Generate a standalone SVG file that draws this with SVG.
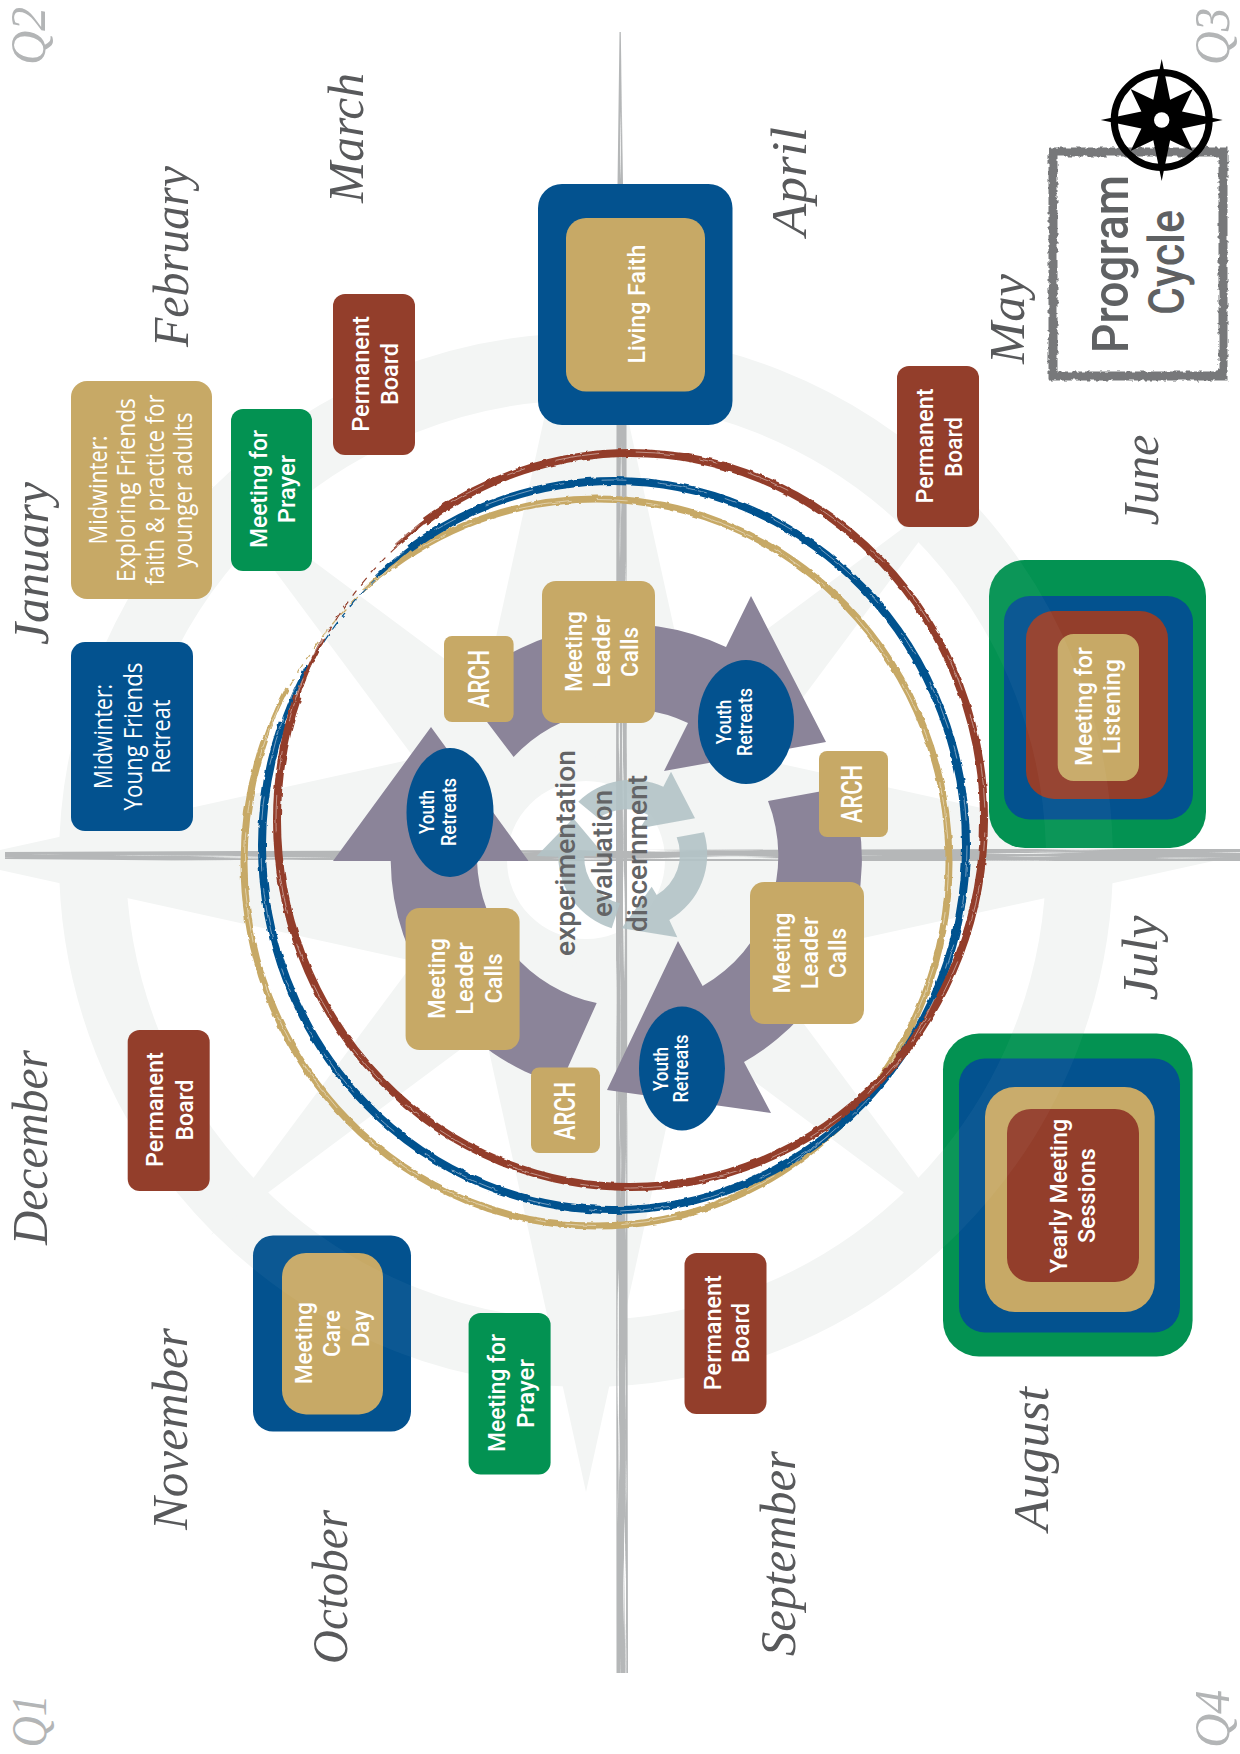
<svg xmlns="http://www.w3.org/2000/svg" width="1240" height="1754" viewBox="0 0 1240 1754">
<style>
text{text-anchor:middle}
.m{font:italic 51px "Liberation Serif",serif;fill:#58595b}
.q{font:italic 50px "Liberation Serif",serif;fill:#b3b5b6}
.w{font:500 24px Roboto,"Liberation Sans",sans-serif;fill:#fff}
.w20{font:500 20px Roboto,"Liberation Sans",sans-serif;fill:#fff}
.w28{font:500 29px Roboto,"Liberation Sans",sans-serif;fill:#fff}
.o{font:500 25px "Open Sans","Liberation Sans",sans-serif;fill:#fff}
.c{font:500 28px Roboto,"Liberation Sans",sans-serif;fill:#636466}
.p{font:500 50px Roboto,"Liberation Sans",sans-serif;fill:#5f6163}
.bl{fill:#03528f}.go{fill:#c7a966}.gr{fill:#039252}.br{fill:#933e2b}
.pu{fill:#8b8499}.cy{fill:#b3c3c6;opacity:.9}
.ring{fill:none}
.rb{stroke:#933e2b}.rn{stroke:#03528f}.rg{stroke:#c7a966}
</style>
<defs>
<filter id="rough" x="-5%" y="-5%" width="110%" height="110%">
<feTurbulence type="fractalNoise" baseFrequency="0.22" numOctaves="2" seed="4" result="n"/>
<feDisplacementMap in="SourceGraphic" in2="n" scale="5" xChannelSelector="R" yChannelSelector="G"/>
</filter>
<filter id="brush" x="-5%" y="-5%" width="110%" height="110%">
<feTurbulence type="fractalNoise" baseFrequency="0.12" numOctaves="2" seed="9" result="n"/>
<feDisplacementMap in="SourceGraphic" in2="n" scale="3" xChannelSelector="R" yChannelSelector="G"/>
</filter>
<filter id="sh" filterUnits="userSpaceOnUse" x="0" y="840" width="1240" height="30" color-interpolation-filters="sRGB">
<feTurbulence type="fractalNoise" baseFrequency="0.006 0.4" numOctaves="2" seed="3" result="n"/>
<feColorMatrix in="n" type="matrix" values="0 0 0 0 0 0 0 0 0 0 0 0 0 0 0 7 0 0 0 -1.8" result="a"/>
<feComposite in="SourceGraphic" in2="a" operator="in"/>
</filter>
<filter id="sv" filterUnits="userSpaceOnUse" x="605" y="20" width="35" height="1670" color-interpolation-filters="sRGB">
<feTurbulence type="fractalNoise" baseFrequency="0.4 0.006" numOctaves="2" seed="7" result="n"/>
<feColorMatrix in="n" type="matrix" values="0 0 0 0 0 0 0 0 0 0 0 0 0 0 0 7 0 0 0 -1.8" result="a"/>
<feComposite in="SourceGraphic" in2="a" operator="in"/>
</filter>
<clipPath id="ov">
<rect x="253" y="1236" width="158" height="196" rx="20"/>
<rect x="989" y="560" width="217" height="288" rx="32"/>
<rect x="943" y="1034" width="250" height="323" rx="32"/>
</clipPath>
</defs>
<rect width="1240" height="1754" fill="#fff"/>

<g id="compass-rose" fill="#f3f5f4">
<circle cx="586" cy="860" r="493.5" fill="none" stroke="#f3f5f4" stroke-width="67"/>
<polygon points="586,228 725,860 586,1492 447,860"/>
<polygon points="-46,860 586,721 1218,860 586,999"/>
<polygon points="961,485 641,915 211,1235 531,805"/>
<polygon points="211,485 641,805 961,1235 531,915"/>
<circle cx="586" cy="860" r="79" fill="#fff"/>
</g>

<g id="axes" fill="#b5b7b8">
<polygon filter="url(#sv)" points="619.5,32 620.8,32 623,185 626.5,420 627,860 628,1673 616.5,1673 616,860 616.5,420 617.5,185"/>
<polygon filter="url(#sh)" points="5,852 240,851 620,850 1000,849 1240,849 1240,861 1000,861 620,861 240,861 5,859"/>
</g>

<g id="rings" class="ring" filter="url(#brush)">
<g id="ring-gold" class="rg">
<ellipse cx="596.5" cy="862.5" rx="352.5" ry="363.5" fill="none" stroke-width="7" pathLength="360" stroke-dasharray="325 35" stroke-dashoffset="-235"/>
<ellipse cx="596.5" cy="862.5" rx="352.5" ry="363.5" fill="none" stroke-width="3.5" pathLength="360" stroke-dasharray="340 20" stroke-dashoffset="-229"/>
<ellipse cx="596.5" cy="862.5" rx="351" ry="362" fill="none" stroke-width="1.2" pathLength="360" stroke-dasharray="1.6 1 .8 1.2 1.4 1" stroke-dashoffset="-212"/>
</g>
<g id="ring-blue" class="rn">
<ellipse cx="614" cy="845.5" rx="352" ry="364.5" fill="none" stroke-width="8" pathLength="360" stroke-dasharray="325 35" stroke-dashoffset="-235"/>
<ellipse cx="614" cy="845.5" rx="352" ry="364.5" fill="none" stroke-width="3.5" pathLength="360" stroke-dasharray="342 18" stroke-dashoffset="-228"/>
<ellipse cx="614" cy="845.5" rx="350.5" ry="363" fill="none" stroke-width="1.2" pathLength="360" stroke-dasharray="1.4 1.1 .8 1.2 1.6 1" stroke-dashoffset="-210"/>
</g>
<g id="ring-brown" class="rb">
<ellipse cx="630.5" cy="820" rx="353.5" ry="367" fill="none" stroke-width="8" pathLength="360" stroke-dasharray="325 35" stroke-dashoffset="-235"/>
<ellipse cx="630.5" cy="820" rx="353.5" ry="367" fill="none" stroke-width="3.5" pathLength="360" stroke-dasharray="341 19" stroke-dashoffset="-229"/>
<ellipse cx="630.5" cy="820" rx="352" ry="365.5" fill="none" stroke-width="1.2" pathLength="360" stroke-dasharray="1.2 1.2 1 1.2 1.4 1" stroke-dashoffset="-209"/>
</g>
<g id="ring-streaks" stroke="#fff" stroke-width=".8" opacity=".55">
<ellipse cx="596.5" cy="862.5" rx="352" ry="363" fill="none" pathLength="360" stroke-dasharray="5 3 2 7 9 4" stroke-dashoffset="-240"/>
<ellipse cx="614" cy="845.5" rx="353" ry="365.5" fill="none" pathLength="360" stroke-dasharray="4 5 8 3 2 6" stroke-dashoffset="-240"/>
<ellipse cx="630.5" cy="820" rx="354.5" ry="368" fill="none" pathLength="360" stroke-dasharray="6 4 3 5 7 6" stroke-dashoffset="-240"/>
</g>
</g>

<g id="connectors">
<path class="pu" d="M462,689A236,236 0 0 1 726,647L751,596L826,742L664,771L688,723A150,150 0 0 0 513.6,757Z"/>
<path class="pu" d="M850,786A233,233 0 0 1 744,1062L771,1113L607,1090L678,941L702.6,986A150,150 0 0 0 768,801Z"/>
<path class="pu" d="M560,1085A236,236 0 0 1 390.7,861L333,861L431,727L528.5,861L477,861A150,150 0 0 0 596.7,1003Z"/>
<path class="cy" d="M578.3,801.7A76,76 0 0 1 663.3,786.7L671,771.7L695,818.3L640,828.3L648.3,815A47,47 0 0 0 598.3,818.3Z"/>
<path class="cy" d="M704,832.3A76,76 0 0 1 669.3,920L677.3,937.3L621.7,928.3L651.7,886.7L656.7,895A47,47 0 0 0 676.7,837.3Z"/>
<path class="cy" d="M611.7,928.3A76,76 0 0 1 558.3,856.7L536.7,856L573.3,818.3L605,856L584.3,856A47,47 0 0 0 620,903.3Z"/>
</g>

<g id="center-labels">
<text class="c" transform="translate(575 853) rotate(-90)" textLength="206" lengthAdjust="spacingAndGlyphs">experimentation</text>
<text class="c" transform="translate(611.7 853.5) rotate(-90)" textLength="127" lengthAdjust="spacingAndGlyphs">evaluation</text>
<text class="c" transform="translate(646.7 853.5) rotate(-90)" textLength="157" lengthAdjust="spacingAndGlyphs">discernment</text>
</g>

<g id="midwinter-young-friends">
<rect class="bl" x="71" y="642" width="122" height="189" rx="14"/>
<text class="o" transform="translate(112 736.5) rotate(-90)" textLength="105" lengthAdjust="spacingAndGlyphs">Midwinter:</text>
<text class="o" transform="translate(141.6 736.5) rotate(-90)" textLength="148" lengthAdjust="spacingAndGlyphs">Young Friends</text>
<text class="o" transform="translate(169.5 736.5) rotate(-90)" textLength="74" lengthAdjust="spacingAndGlyphs">Retreat</text>
</g>
<g id="midwinter-exploring">
<rect class="go" x="71" y="381" width="141" height="218" rx="16"/>
<text class="o" transform="translate(107 490) rotate(-90)" textLength="109" lengthAdjust="spacingAndGlyphs">Midwinter:</text>
<text class="o" transform="translate(135 490) rotate(-90)" textLength="184" lengthAdjust="spacingAndGlyphs">Exploring Friends</text>
<text class="o" transform="translate(164 490) rotate(-90)" textLength="191" lengthAdjust="spacingAndGlyphs">faith &amp; practice for</text>
<text class="o" transform="translate(192 490) rotate(-90)" textLength="155" lengthAdjust="spacingAndGlyphs">younger adults</text>
</g>
<g id="prayer-top">
<rect class="gr" x="231" y="409" width="81" height="162" rx="12"/>
<text class="w" transform="translate(266.5 489) rotate(-90)" textLength="118" lengthAdjust="spacingAndGlyphs">Meeting for</text>
<text class="w" transform="translate(294.7 489) rotate(-90)" textLength="68.5" lengthAdjust="spacingAndGlyphs">Prayer</text>
</g>
<g id="permanent-board-march">
<rect class="br" x="333" y="294" width="82" height="161" rx="12"/>
<text class="w" transform="translate(369.4 374) rotate(-90)" textLength="115.7" lengthAdjust="spacingAndGlyphs">Permanent</text>
<text class="w" transform="translate(398 374) rotate(-90)" textLength="62" lengthAdjust="spacingAndGlyphs">Board</text>
</g>
<g id="permanent-board-june">
<rect class="br" x="897" y="366" width="82" height="161" rx="12"/>
<text class="w" transform="translate(933 446) rotate(-90)" textLength="115" lengthAdjust="spacingAndGlyphs">Permanent</text>
<text class="w" transform="translate(962 447) rotate(-90)" textLength="60" lengthAdjust="spacingAndGlyphs">Board</text>
</g>
<g id="permanent-board-september">
<rect class="br" x="684.5" y="1253" width="82" height="161" rx="12"/>
<text class="w" transform="translate(721 1332.7) rotate(-90)" textLength="115" lengthAdjust="spacingAndGlyphs">Permanent</text>
<text class="w" transform="translate(749.4 1333) rotate(-90)" textLength="60" lengthAdjust="spacingAndGlyphs">Board</text>
</g>
<g id="permanent-board-december">
<rect class="br" x="127.7" y="1030" width="82" height="161" rx="12"/>
<text class="w" transform="translate(163 1109.6) rotate(-90)" textLength="115" lengthAdjust="spacingAndGlyphs">Permanent</text>
<text class="w" transform="translate(192.6 1110) rotate(-90)" textLength="61" lengthAdjust="spacingAndGlyphs">Board</text>
</g>
<g id="prayer-bottom">
<rect class="gr" x="468.6" y="1313" width="82" height="161.5" rx="12"/>
<text class="w" transform="translate(505 1393) rotate(-90)" textLength="118" lengthAdjust="spacingAndGlyphs">Meeting for</text>
<text class="w" transform="translate(534 1393.6) rotate(-90)" textLength="69" lengthAdjust="spacingAndGlyphs">Prayer</text>
</g>
<g id="living-faith">
<rect class="bl" x="538" y="184" width="194.5" height="241" rx="24"/>
<rect class="go" x="566" y="218" width="139" height="173.4" rx="20"/>
<text class="w" transform="translate(645.4 304) rotate(-90)" textLength="119" lengthAdjust="spacingAndGlyphs">Living Faith</text>
</g>
<g id="meeting-for-listening">
<rect class="gr" x="989" y="560" width="217" height="288" rx="36"/>
<rect class="bl" x="1004" y="596" width="189" height="223.6" rx="26"/>
<rect class="br" x="1026" y="611" width="142" height="188" rx="28"/>
<rect class="go" x="1057.7" y="634" width="81.3" height="147" rx="16"/>
<text class="w" transform="translate(1091.7 706.6) rotate(-90)" textLength="119" lengthAdjust="spacingAndGlyphs">Meeting for</text>
<text class="w" transform="translate(1120 706.7) rotate(-90)" textLength="95" lengthAdjust="spacingAndGlyphs">Listening</text>
</g>
<g id="yearly-meeting-sessions">
<rect class="gr" x="943" y="1033.6" width="249.6" height="323" rx="36"/>
<rect class="bl" x="959" y="1058.6" width="221" height="274" rx="26"/>
<rect class="go" x="985" y="1087" width="169.7" height="225" rx="30"/>
<rect class="br" x="1007" y="1109" width="132" height="173" rx="24"/>
<text class="w" transform="translate(1067 1196) rotate(-90)" textLength="154" lengthAdjust="spacingAndGlyphs">Yearly Meeting</text>
<text class="w" transform="translate(1095 1195.6) rotate(-90)" textLength="95" lengthAdjust="spacingAndGlyphs">Sessions</text>
</g>
<g id="meeting-care-day">
<rect class="bl" x="253" y="1235.6" width="158" height="196" rx="20"/>
<rect class="go" x="282" y="1253" width="101" height="161.4" rx="24"/>
<text class="w" transform="translate(312.4 1343) rotate(-90)" textLength="82" lengthAdjust="spacingAndGlyphs">Meeting</text>
<text class="w" transform="translate(340 1333.5) rotate(-90)" textLength="47" lengthAdjust="spacingAndGlyphs">Care</text>
<text class="w" transform="translate(369 1328.6) rotate(-90)" textLength="37" lengthAdjust="spacingAndGlyphs">Day</text>
</g>
<circle id="ring-overlay" cx="586" cy="860" r="493.5" fill="none" stroke="#fff" stroke-opacity=".04" stroke-width="67" clip-path="url(#ov)"/>

<g id="arch-top">
<rect class="go" x="444" y="636" width="69.6" height="86" rx="8"/>
<text class="w28" transform="translate(488.7 679) rotate(-90)" textLength="58" lengthAdjust="spacingAndGlyphs">ARCH</text>
</g>
<g id="arch-right">
<rect class="go" x="819" y="751" width="69" height="86" rx="8"/>
<text class="w28" transform="translate(862 794) rotate(-90)" textLength="58" lengthAdjust="spacingAndGlyphs">ARCH</text>
</g>
<g id="arch-bottom">
<rect class="go" x="531" y="1067.5" width="69" height="85.5" rx="8"/>
<text class="w28" transform="translate(575 1111) rotate(-90)" textLength="58" lengthAdjust="spacingAndGlyphs">ARCH</text>
</g>
<g id="calls-top">
<rect class="go" x="542" y="581" width="113" height="142" rx="14"/>
<text class="w" transform="translate(581.5 651.5) rotate(-90)" textLength="80.5" lengthAdjust="spacingAndGlyphs">Meeting</text>
<text class="w" transform="translate(609.6 651.5) rotate(-90)" textLength="72.5" lengthAdjust="spacingAndGlyphs">Leader</text>
<text class="w" transform="translate(638 652) rotate(-90)" textLength="50" lengthAdjust="spacingAndGlyphs">Calls</text>
</g>
<g id="calls-right">
<rect class="go" x="750" y="882" width="114" height="142" rx="14"/>
<text class="w" transform="translate(789.5 953) rotate(-90)" textLength="80.5" lengthAdjust="spacingAndGlyphs">Meeting</text>
<text class="w" transform="translate(817.6 953) rotate(-90)" textLength="72.5" lengthAdjust="spacingAndGlyphs">Leader</text>
<text class="w" transform="translate(846 953) rotate(-90)" textLength="50" lengthAdjust="spacingAndGlyphs">Calls</text>
</g>
<g id="calls-left">
<rect class="go" x="405.6" y="908" width="114" height="142" rx="14"/>
<text class="w" transform="translate(445 978.5) rotate(-90)" textLength="80.5" lengthAdjust="spacingAndGlyphs">Meeting</text>
<text class="w" transform="translate(473 978.5) rotate(-90)" textLength="72.5" lengthAdjust="spacingAndGlyphs">Leader</text>
<text class="w" transform="translate(501.6 978.5) rotate(-90)" textLength="50" lengthAdjust="spacingAndGlyphs">Calls</text>
</g>
<g id="youth-top">
<ellipse class="bl" cx="746" cy="722" rx="48" ry="62"/>
<text class="w20" transform="translate(731 722) rotate(-90)" textLength="44.6" lengthAdjust="spacingAndGlyphs">Youth</text>
<text class="w20" transform="translate(752.4 722) rotate(-90)" textLength="68" lengthAdjust="spacingAndGlyphs">Retreats</text>
</g>
<g id="youth-left">
<ellipse class="bl" cx="450" cy="812.5" rx="43.5" ry="64.5"/>
<text class="w20" transform="translate(434 812) rotate(-90)" textLength="44" lengthAdjust="spacingAndGlyphs">Youth</text>
<text class="w20" transform="translate(456.4 812) rotate(-90)" textLength="68" lengthAdjust="spacingAndGlyphs">Retreats</text>
</g>
<g id="youth-bottom">
<ellipse class="bl" cx="682" cy="1068.5" rx="43" ry="62"/>
<text class="w20" transform="translate(667.8 1069) rotate(-90)" textLength="44" lengthAdjust="spacingAndGlyphs">Youth</text>
<text class="w20" transform="translate(688 1068.5) rotate(-90)" textLength="68" lengthAdjust="spacingAndGlyphs">Retreats</text>
</g>

<g id="months">
<text class="m" transform="translate(48 563.5) rotate(-90)" textLength="163" lengthAdjust="spacingAndGlyphs">January</text>
<text class="m" transform="translate(188 256.5) rotate(-90)" textLength="181" lengthAdjust="spacingAndGlyphs">February</text>
<text class="m" transform="translate(363 138) rotate(-90)" textLength="130" lengthAdjust="spacingAndGlyphs">March</text>
<text class="m" transform="translate(806 181.5) rotate(-90)" textLength="109" lengthAdjust="spacingAndGlyphs">April</text>
<text class="m" transform="translate(1024 319) rotate(-90)" textLength="90" lengthAdjust="spacingAndGlyphs">May</text>
<text class="m" transform="translate(1158 480) rotate(-90)" textLength="91" lengthAdjust="spacingAndGlyphs">June</text>
<text class="m" transform="translate(1157 958) rotate(-90)" textLength="85" lengthAdjust="spacingAndGlyphs">July</text>
<text class="m" transform="translate(1048 1459) rotate(-90)" textLength="144" lengthAdjust="spacingAndGlyphs">August</text>
<text class="m" transform="translate(795 1553.5) rotate(-90)" textLength="205" lengthAdjust="spacingAndGlyphs">September</text>
<text class="m" transform="translate(347 1587) rotate(-90)" textLength="154" lengthAdjust="spacingAndGlyphs">October</text>
<text class="m" transform="translate(187 1429) rotate(-90)" textLength="202" lengthAdjust="spacingAndGlyphs">November</text>
<text class="m" transform="translate(47 1147.5) rotate(-90)" textLength="195" lengthAdjust="spacingAndGlyphs">December</text>
</g>
<g id="quarters">
<text class="q" transform="translate(45.5 1721) rotate(-90)" textLength="53" lengthAdjust="spacingAndGlyphs">Q1</text>
<text class="q" transform="translate(45 36) rotate(-90)" textLength="58" lengthAdjust="spacingAndGlyphs">Q2</text>
<text class="q" transform="translate(1229 36.5) rotate(-90)" textLength="57" lengthAdjust="spacingAndGlyphs">Q3</text>
<text class="q" transform="translate(1229 1719) rotate(-90)" textLength="58" lengthAdjust="spacingAndGlyphs">Q4</text>
</g>

<g id="title">
<rect x="1053" y="152" width="170" height="224" fill="none" stroke="#77787a" stroke-width="9" filter="url(#rough)"/>
<text class="p" transform="translate(1127.7 264) rotate(-90)" textLength="178" lengthAdjust="spacingAndGlyphs">Program</text>
<text class="p" transform="translate(1184 262.5) rotate(-90)" textLength="105" lengthAdjust="spacingAndGlyphs">Cycle</text>
</g>
<g id="compass-icon" transform="translate(1161.7 120)">
<circle r="47.5" fill="none" stroke="#000" stroke-width="7"/>
<polygon fill="#000" points="0,-61 8.4,-20.3 31.1,-31.1 20.3,-8.4 61,0 20.3,8.4 31.1,31.1 8.4,20.3 0,61 -8.4,20.3 -31.1,31.1 -20.3,8.4 -61,0 -20.3,-8.4 -31.1,-31.1 -8.4,-20.3"/>
<circle r="7.7" fill="#fff"/>
</g>
</svg>
